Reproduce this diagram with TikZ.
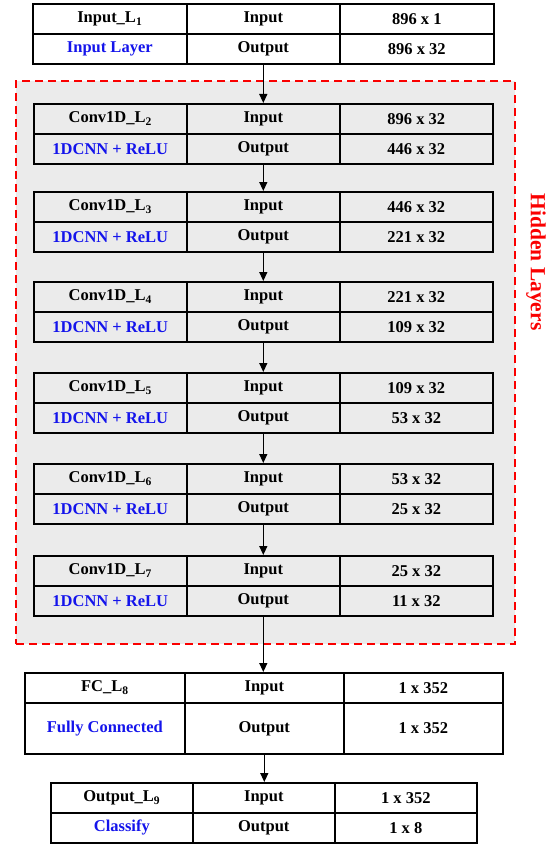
\documentclass[tikz,border=0pt]{standalone}
\usepackage{fontspec}
\setmainfont{Liberation Serif}
\usetikzlibrary{arrows.meta}
\definecolor{lblue}{RGB}{20,20,235}
\definecolor{lred}{RGB}{250,0,0}
\definecolor{lgrey}{RGB}{235,235,235}
\tikzset{
  cell/.style={draw=black, line width=1.6pt, inner sep=0pt, anchor=north west,
    font=\fontsize{16.5}{19}\bfseries\selectfont, text=black},
  bluecell/.style={cell, text=lblue},
  arr/.style={line width=1.3pt, -{Triangle[length=9pt,width=8pt]}},
  hiddenbox/.style={draw=lred, line width=2pt, dash pattern=on 8pt off 5pt, fill=lgrey,
    anchor=north west, inner sep=0pt},
}
\begin{document}
\begin{tikzpicture}[x=1pt,y=-1pt]
\useasboundingbox (0,0) rectangle (553,845);
% hidden layers container
\node[hiddenbox, minimum width=499pt, minimum height=563pt] (hidden) at (15,80) {};
\node[rotate=-90, text=lred, font=\fontsize{21.5}{25}\bfseries\selectfont] (hl) at (536,262) {Hidden Layers};
% input table
\node[cell, minimum width=154pt, minimum height=30pt] (t-n) at (32,3) {Input\_L\textsubscript{1}};
\node[cell, minimum width=153pt, minimum height=30pt] (t-i) at (186,3) {Input};
\node[cell, minimum width=154pt, minimum height=30pt] (t-s) at (339,3) {896 x 1};
\node[bluecell, minimum width=154pt, minimum height=30pt] (t-d) at (32,33) {Input Layer};
\node[cell, minimum width=153pt, minimum height=30pt] (t-o) at (186,33) {Output};
\node[cell, minimum width=154pt, minimum height=30pt] (t-z) at (339,33) {896 x 32};
% conv blocks
\foreach \i/\yt/\ina/\outa in {2/103/896 x 32/446 x 32, 3/191/446 x 32/221 x 32,
  4/281/221 x 32/109 x 32, 5/372/109 x 32/53 x 32, 6/463/53 x 32/25 x 32, 7/555/25 x 32/11 x 32}{
  \node[cell, minimum width=153pt, minimum height=30pt] (c\i-n) at (33,\yt) {Conv1D\_L\textsubscript{\i}};
  \node[cell, minimum width=153pt, minimum height=30pt] (c\i-i) at (186,\yt) {Input};
  \node[cell, minimum width=153pt, minimum height=30pt] (c\i-s) at (339,\yt) {\ina};
  \node[bluecell, minimum width=153pt, minimum height=30pt, yshift=-30pt] (c\i-d) at (33,\yt) {1DCNN + ReLU};
  \node[cell, minimum width=153pt, minimum height=30pt, yshift=-30pt] (c\i-o) at (186,\yt) {Output};
  \node[cell, minimum width=153pt, minimum height=30pt, yshift=-30pt] (c\i-z) at (339,\yt) {\outa};
}
% FC block
\node[cell, minimum width=160pt, minimum height=30pt] (f-n) at (24,672) {FC\_L\textsubscript{8}};
\node[cell, minimum width=159pt, minimum height=30pt] (f-i) at (184,672) {Input};
\node[cell, minimum width=159pt, minimum height=30pt] (f-s) at (343,672) {1 x 352};
\node[bluecell, minimum width=160pt, minimum height=51pt] (f-d) at (24,702) {Fully Connected};
\node[cell, minimum width=159pt, minimum height=51pt] (f-o) at (184,702) {Output};
\node[cell, minimum width=159pt, minimum height=51pt] (f-z) at (343,702) {1 x 352};
% output block
\node[cell, minimum width=142pt, minimum height=30pt] (o-n) at (50,782) {Output\_L\textsubscript{9}};
\node[cell, minimum width=142pt, minimum height=30pt] (o-i) at (192,782) {Input};
\node[cell, minimum width=142pt, minimum height=30pt] (o-s) at (334,782) {1 x 352};
\node[bluecell, minimum width=142pt, minimum height=30pt] (o-d) at (50,812) {Classify};
\node[cell, minimum width=142pt, minimum height=30pt] (o-o) at (192,812) {Output};
\node[cell, minimum width=142pt, minimum height=30pt] (o-z) at (334,812) {1 x 8};
% arrows
\draw[arr] (t-o.south) -- (t-o.south |- c2-i.north);
\draw[arr] (c2-o.south) -- (c2-o.south |- c3-i.north);
\draw[arr] (c3-o.south) -- (c3-o.south |- c4-i.north);
\draw[arr] (c4-o.south) -- (c4-o.south |- c5-i.north);
\draw[arr] (c5-o.south) -- (c5-o.south |- c6-i.north);
\draw[arr] (c6-o.south) -- (c6-o.south |- c7-i.north);
\draw[arr] (c7-o.south) -- (c7-o.south |- f-i.north);
\draw[arr] (f-o.south) -- (f-o.south |- o-i.north);
\end{tikzpicture}
\end{document}
